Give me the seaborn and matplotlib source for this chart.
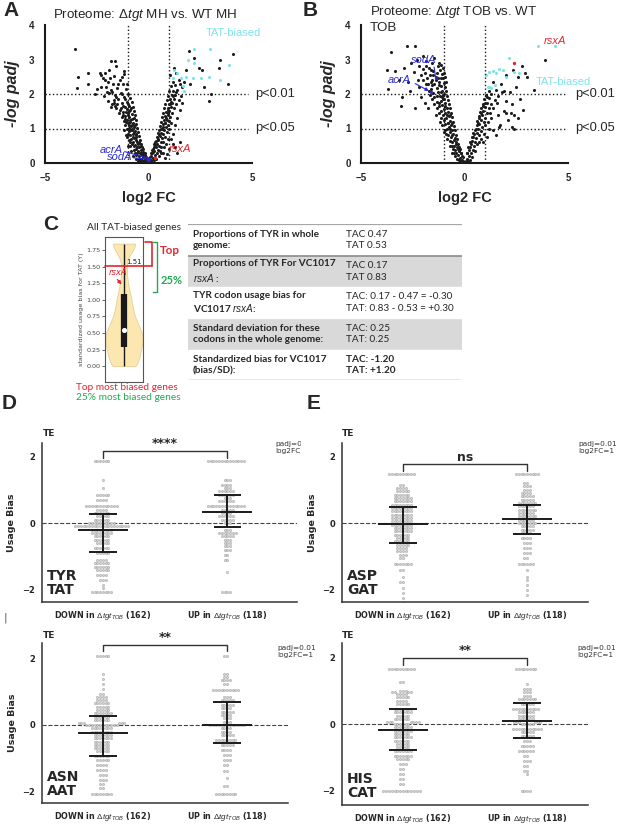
import matplotlib
matplotlib.use("Agg")
import matplotlib.pyplot as plt
from matplotlib.patches import Rectangle
import seaborn as sns
import numpy as np
import pandas as pd

W, H = 617, 824
VOL_FONT = "Liberation Sans"
TAB_FONT = "Lato"
CYAN = "#7de3ea"
RED = "#e3262d"
BLUE = "#2b2bd6"
GREEN = "#1faa50"

# ---------- A : volcano MH (log2 FC, -log padj) ----------
vol_a_black = [
    (-0.05, 0.04), (-0.1, 0.08), (-0.14, 0.03), (-0.18, 0.12), (-0.22, 0.07), (-0.27, 0.16), (-0.3, 0.05), (-0.33, 0.22),
    (-0.12, 0.18), (-0.2, 0.25), (-0.38, 0.12), (-0.42, 0.28), (-0.26, 0.33), (-0.35, 0.38), (-0.48, 0.2), (-0.5, 0.35),
    (-0.3, 0.45), (-0.44, 0.47), (-0.56, 0.3), (-0.6, 0.42), (-0.38, 0.55), (-0.52, 0.56), (-0.64, 0.52), (-0.7, 0.38),
    (-0.74, 0.6), (-0.42, 0.66), (-0.58, 0.68), (-0.68, 0.72), (-0.8, 0.55), (-0.84, 0.7), (-0.48, 0.78), (-0.62, 0.8),
    (-0.76, 0.84), (-0.88, 0.82), (-0.95, 0.66), (-0.52, 0.9), (-0.66, 0.93), (-0.8, 0.96), (-0.92, 0.92), (-1.0, 0.85),
    (-0.56, 1.02), (-0.7, 1.05), (-0.84, 1.08), (-0.96, 1.02), (-1.06, 0.98), (-0.6, 1.14), (-0.74, 1.17), (-0.88, 1.2),
    (-1.0, 1.15), (-1.12, 1.1), (-0.62, 1.25), (-0.78, 1.28), (-0.92, 1.32), (-1.05, 1.26), (-1.2, 1.22), (-0.66, 1.38),
    (-0.82, 1.41), (-0.98, 1.44), (-1.12, 1.36), (-1.3, 1.33), (-0.7, 1.5), (-0.88, 1.53), (-1.05, 1.56), (-1.22, 1.49),
    (-1.42, 1.46), (-0.76, 1.63), (-0.95, 1.66), (-1.15, 1.62), (-1.35, 1.6), (-1.55, 1.58), (-0.82, 1.76), (-1.05, 1.78),
    (-1.28, 1.74), (-1.5, 1.7), (-1.75, 1.72), (-0.9, 1.88), (-1.2, 1.9), (-1.45, 1.86), (-1.68, 1.84), (-1.95, 1.8),
    (-1.0, 2.0), (-1.35, 2.03), (-1.62, 1.98), (-1.9, 2.02), (-2.15, 1.95), (-1.1, 2.14), (-1.5, 2.16), (-1.8, 2.12),
    (-2.05, 2.2), (-1.25, 2.3), (-1.7, 2.28), (-1.95, 2.35), (-1.4, 2.42), (-2.2, 2.45), (-1.65, 2.52), (-1.2, 2.58),
    (-2.35, 2.62), (-1.9, 2.7), (-1.55, 2.8), (-1.8, 2.95), (-1.6, 2.95), (-0.08, 0.14), (-0.16, 0.22), (-0.24, 0.1),
    (-0.4, 0.05), (-0.46, 0.12), (-0.34, 0.28), (-0.58, 0.22), (-0.66, 0.3), (-0.72, 0.48), (-0.9, 0.5), (-0.9, 0.6),
    (-1.02, 0.75), (-0.78, 1.0), (-1.08, 1.2), (-0.7, 1.3), (-1.0, 1.38), (-0.45, 0.6), (-0.55, 0.45), (-0.6, 0.85),
    (-0.75, 0.75), (-0.85, 0.95), (-0.95, 1.1), (-0.65, 1.1), (-1.15, 1.28), (-0.85, 1.6), (-1.25, 1.65),
    (-0.15, 0.3), (-0.25, 0.42), (-0.35, 0.5), (-0.47, 0.58), (-0.55, 0.62), (-0.62, 0.75), (-0.7, 0.9), (-0.8, 1.1),
    (-0.9, 1.25), (-0.95, 1.5), (-1.1, 1.48), (-1.25, 1.4), (-1.4, 1.55), (-1.6, 1.65), (-1.0, 1.7), (-1.15, 1.85),
    (-1.3, 2.0), (-1.55, 1.92), (-1.75, 2.05), (-2.0, 2.05), (-1.45, 2.28), (-1.85, 2.45), (-2.1, 2.6), (-1.3, 2.5),
    (-1.05, 2.3), (-2.3, 2.2), (-1.8, 1.62), (-1.65, 1.75), (-0.5, 0.05), (-0.62, 0.12), (-0.75, 0.2), (-0.85, 0.35),
    (-1.0, 0.5), (-1.1, 0.8), (-1.2, 0.95),
    (-3.55, 3.3), (-3.4, 2.48), (-3.45, 2.18), (-2.9, 2.6), (-2.9, 2.28), (-2.3, 2.55), (-2.1, 2.4), (-1.2, 2.67),
    (-2.6, 2.0), (-2.5, 2.15),
    (0.05, 0.05), (0.1, 0.1), (0.15, 0.04), (0.2, 0.15), (0.12, 0.2), (0.25, 0.08), (0.3, 0.22), (0.18, 0.28),
    (0.35, 0.12), (0.28, 0.35), (0.4, 0.3), (0.22, 0.4), (0.36, 0.45), (0.45, 0.38), (0.3, 0.52), (0.42, 0.56),
    (0.52, 0.48), (0.35, 0.64), (0.48, 0.66), (0.58, 0.6), (0.4, 0.75), (0.54, 0.78), (0.64, 0.72), (0.46, 0.86),
    (0.6, 0.88), (0.7, 0.84), (0.5, 0.97), (0.64, 1.0), (0.76, 0.95), (0.86, 1.05), (0.55, 1.08), (0.7, 1.12),
    (0.82, 1.15), (0.95, 1.1), (0.6, 1.2), (0.75, 1.24), (0.88, 1.26), (1.0, 1.22), (0.65, 1.32), (0.8, 1.36),
    (0.94, 1.38), (1.06, 1.34), (0.7, 1.45), (0.86, 1.48), (1.0, 1.5), (1.15, 1.46), (0.76, 1.58), (0.92, 1.6),
    (1.08, 1.62), (1.25, 1.58), (0.82, 1.7), (0.98, 1.72), (1.15, 1.74), (1.35, 1.7), (0.88, 1.82), (1.05, 1.85),
    (1.22, 1.86), (1.45, 1.82), (0.95, 1.95), (1.12, 1.97), (1.3, 1.98), (1.55, 1.95), (1.0, 2.08), (1.2, 2.1),
    (1.4, 2.12), (1.1, 2.22), (1.3, 2.25), (1.6, 2.2), (1.2, 2.35), (1.45, 2.4), (1.05, 2.55), (1.35, 2.6),
    (1.25, 2.75), (0.08, 0.16), (0.2, 0.32), (0.25, 0.46), (0.5, 0.2), (0.55, 0.35), (0.62, 0.45), (0.7, 0.6),
    (0.8, 0.75), (0.9, 0.9), (1.0, 0.4), (1.2, 0.55), (1.4, 0.3), (0.9, 0.25), (1.1, 0.7), (0.8, 0.15), (0.7, 0.3),
    (1.0, 1.0), (1.1, 1.15),
    (0.1, 0.3), (0.15, 0.38), (0.25, 0.55), (0.32, 0.62), (0.45, 0.7), (0.52, 0.8), (0.6, 1.0), (0.68, 1.05),
    (0.78, 1.15), (0.85, 1.3), (0.92, 1.45), (0.95, 1.55), (1.05, 1.7), (1.1, 1.78), (1.2, 1.95), (1.35, 2.05),
    (1.5, 2.3), (1.7, 2.35), (0.6, 0.3), (0.75, 0.45), (0.85, 0.55), (0.95, 0.7), (1.3, 0.45), (1.5, 0.6),
    (1.2, 0.85), (1.3, 1.1), (1.4, 1.3), (1.5, 1.55), (1.6, 1.75),
    (4.1, 3.15), (3.85, 2.3), (3.4, 2.75), (3.0, 2.0), (2.9, 1.8), (2.6, 2.7), (2.45, 2.75), (1.95, 3.25),
    (2.2, 3.05), (1.8, 2.7), (3.45, 3.0), (2.0, 2.3), (2.7, 2.2),
]
vol_a_tat = [
    (1.25, 2.7), (1.57, 2.45), (1.17, 2.45), (1.8, 2.5), (1.65, 2.23), (1.73, 2.1), (1.9, 3.0), (2.2, 2.9),
    (2.2, 3.3), (2.55, 2.45), (2.95, 3.3), (2.9, 2.5), (3.45, 2.4), (3.9, 2.85), (2.13, 2.47), (1.4, 2.6),
]
vol_a_red = [(0.3, 0.15)]
vol_a_blue = [(0.04, 0.12), (-0.03, 0.1)]

# ---------- B : volcano TOB ----------
vol_b_black = [
    (-0.05, 0.05), (-0.1, 0.1), (-0.15, 0.04), (-0.2, 0.15), (-0.12, 0.2), (-0.25, 0.08), (-0.3, 0.22), (-0.18, 0.28),
    (-0.35, 0.12), (-0.28, 0.35), (-0.4, 0.3), (-0.22, 0.4), (-0.36, 0.46), (-0.45, 0.38), (-0.3, 0.55), (-0.42, 0.6),
    (-0.52, 0.5), (-0.35, 0.7), (-0.48, 0.72), (-0.58, 0.62), (-0.4, 0.82), (-0.54, 0.85), (-0.64, 0.76), (-0.45, 0.95),
    (-0.6, 0.97), (-0.7, 0.9), (-0.5, 1.07), (-0.64, 1.1), (-0.76, 1.04), (-0.86, 1.0), (-0.55, 1.2), (-0.7, 1.22),
    (-0.82, 1.17), (-0.95, 1.12), (-0.6, 1.33), (-0.75, 1.35), (-0.88, 1.3), (-1.0, 1.26), (-0.65, 1.45), (-0.8, 1.48),
    (-0.94, 1.44), (-1.06, 1.4), (-0.7, 1.58), (-0.86, 1.6), (-1.0, 1.56), (-1.15, 1.52), (-0.75, 1.7), (-0.92, 1.73),
    (-1.08, 1.68), (-1.25, 1.65), (-0.8, 1.83), (-0.98, 1.86), (-1.15, 1.8), (-1.35, 1.78), (-0.85, 1.95), (-1.02, 1.98),
    (-1.2, 1.93), (-1.45, 1.9), (-0.9, 2.08), (-1.08, 2.1), (-1.28, 2.06), (-1.5, 2.02), (-0.95, 2.2), (-1.15, 2.22),
    (-1.35, 2.18), (-1.6, 2.15), (-1.0, 2.32), (-1.22, 2.35), (-1.45, 2.3), (-1.75, 2.28), (-1.05, 2.45), (-1.3, 2.47),
    (-1.55, 2.42), (-1.1, 2.58), (-1.35, 2.6), (-1.65, 2.55), (-1.2, 2.7), (-1.5, 2.68), (-1.9, 2.62), (-1.3, 2.8),
    (-1.7, 2.75), (-2.0, 2.72), (-1.55, 2.9), (-1.85, 2.95), (-2.2, 2.8), (-1.45, 3.05), (-2.0, 3.1),
    (-0.08, 0.16), (-0.22, 0.05), (-0.32, 0.4), (-0.5, 0.3), (-0.56, 0.42), (-0.62, 0.5), (-0.7, 0.65), (-0.78, 0.8),
    (-0.9, 0.85), (-0.95, 0.95), (-1.1, 1.1), (-1.15, 1.3), (-1.25, 1.45), (-1.35, 1.6), (-1.45, 1.72), (-1.55, 1.85),
    (-1.65, 1.98), (-1.1, 1.9), (-1.0, 2.0), (-0.98, 2.6), (-1.05, 2.75), (-1.4, 2.5), (-1.6, 2.35), (-1.8, 2.45),
    (-1.25, 2.9),
    (-0.15, 0.3), (-0.25, 0.45), (-0.4, 0.55), (-0.5, 0.68), (-0.58, 0.8), (-0.68, 1.0), (-0.78, 1.15), (-0.85, 1.4),
    (-0.95, 1.65), (-1.05, 1.85), (-1.15, 2.05), (-1.25, 2.25), (-1.4, 2.4), (-1.5, 2.55), (-1.62, 2.7), (-1.15, 2.45),
    (-0.9, 2.35), (-0.95, 2.5), (-1.15, 2.85), (-1.7, 2.1), (-1.85, 2.3), (-2.1, 2.55), (-2.25, 2.4), (-1.35, 1.95),
    (-1.25, 1.75), (-1.55, 2.25), (-0.7, 1.4), (-0.6, 1.15), (-0.45, 0.2), (-0.6, 0.3), (-0.7, 0.5), (-0.85, 0.7),
    (-1.0, 0.9), (-1.2, 1.2), (-1.4, 1.4),
    (-3.55, 3.23), (-2.8, 3.38), (-2.4, 3.4), (-3.73, 2.7), (-3.35, 2.68), (-2.45, 2.65), (-3.7, 2.15), (-3.05, 1.65),
    (-2.1, 1.92), (-3.15, 2.4), (-2.75, 2.35), (-3.0, 1.9), (-2.65, 2.1), (-2.2, 2.2), (-1.85, 2.8), (-2.0, 2.4),
    (-2.6, 2.9), (-2.3, 3.0), (-2.9, 2.75), (-1.9, 1.75), (-2.4, 1.6), (-1.75, 1.6),
    (0.05, 0.05), (0.1, 0.12), (0.15, 0.05), (0.2, 0.2), (0.12, 0.28), (0.25, 0.1), (0.3, 0.3), (0.2, 0.38),
    (0.35, 0.18), (0.28, 0.45), (0.4, 0.38), (0.32, 0.55), (0.45, 0.5), (0.38, 0.65), (0.5, 0.62), (0.42, 0.75),
    (0.55, 0.72), (0.6, 0.55), (0.48, 0.85), (0.6, 0.88), (0.7, 0.8), (0.52, 0.97), (0.66, 1.0), (0.78, 0.92),
    (0.58, 1.1), (0.72, 1.12), (0.86, 1.05), (0.62, 1.22), (0.78, 1.25), (0.92, 1.18), (0.68, 1.35), (0.84, 1.38),
    (1.0, 1.3), (0.74, 1.48), (0.9, 1.5), (1.08, 1.45), (0.8, 1.6), (0.98, 1.62), (1.2, 1.58), (0.88, 1.72),
    (1.08, 1.75), (1.3, 1.7), (0.95, 1.85), (1.2, 1.88), (1.45, 1.82), (1.05, 1.98), (1.3, 2.0), (1.6, 1.95),
    (1.2, 2.1), (1.5, 2.12), (1.8, 2.05), (1.0, 1.1), (1.2, 1.0), (1.4, 0.95), (1.3, 1.3), (1.6, 1.4), (1.7, 1.1),
    (1.9, 1.5), (2.1, 1.25), (2.3, 1.05), (1.5, 0.8), (1.1, 0.75), (0.9, 0.6), (2.4, 1.4), (2.0, 1.8), (2.2, 2.05),
    (2.5, 2.2), (2.7, 1.85), (2.85, 1.55), (2.3, 1.7), (1.75, 2.3), (1.4, 2.35), (2.0, 2.55), (2.6, 2.5), (2.9, 2.6),
    (3.0, 2.5), (3.9, 3.0), (2.35, 2.7), (2.8, 2.8), (1.9, 2.1), (3.38, 2.12), (2.0, 1.44), (2.25, 1.44),
    (1.69, 1.05), (2.4, 1.0), (2.6, 1.3),
    (0.1, 0.3), (0.18, 0.45), (0.25, 0.6), (0.35, 0.75), (0.42, 0.88), (0.55, 1.0), (0.65, 1.15), (0.72, 1.3),
    (0.8, 1.45), (0.9, 1.65), (1.0, 1.75), (1.1, 1.9), (0.5, 0.35), (0.7, 0.6), (0.8, 0.7), (0.95, 0.85),
    (1.15, 1.2), (1.25, 1.45), (1.4, 1.6), (1.55, 1.75),
]
vol_b_tat = [
    (1.05, 2.55), (1.2, 2.65), (1.37, 2.68), (1.53, 2.62), (1.85, 2.7), (2.0, 2.5), (2.17, 3.03), (2.4, 2.65),
    (2.65, 2.6), (1.3, 2.17), (1.13, 2.21), (1.45, 2.26), (3.55, 3.38), (4.35, 3.4), (1.65, 2.72), (1.2, 2.2),
]
vol_b_red = [(2.41, 2.89)]
vol_b_blue = [(-1.4, 2.45), (-1.6, 2.05)]

# ---------- C : biais d'usage des gènes TAT ----------
tat_bias_genes = [0.0, 0.0, 0.01, 0.02, 0.04, 0.06, 0.09, 0.12, 0.15, 0.18, 0.21, 0.24, 0.28,
                  0.3, 0.32, 0.34, 0.36, 0.38, 0.4, 0.42, 0.44, 0.46, 0.48, 0.5, 0.52, 0.54,
                  0.56, 0.59, 0.62, 0.65, 0.69, 0.73, 0.77, 0.82, 0.87, 0.92, 0.97, 1.02, 1.07,
                  1.15, 1.25, 1.4, 1.55, 1.85, 1.85, 1.85, 1.85, 1.85, 1.85, 1.85, 1.85, 1.85]
top_cut = 1.51
table_left = ["Proportions of TYR in whole\ngenome:",
              "Proportions of TYR For VC1017\n$\\mathit{rsxA}$ :",
              "TYR codon usage bias for\nVC1017 $\\mathit{rsxA}$:",
              "Standard deviation for these\ncodons in the whole genome:",
              "Standardized bias for VC1017\n(bias/SD):"]
table_right = ["TAC 0.47\nTAT 0.53",
               "TAC 0.17\nTAT 0.83",
               "TAC: 0.17 - 0.47 = -0.30\nTAT: 0.83 - 0.53 = +0.30",
               "TAC: 0.25\nTAT: 0.25",
               "TAC: -1.20\nTAT: +1.20"]
table_shade = [False, True, False, True, False]

# ---------- D / E : usage bias (niveau, nombre de gènes) ----------
tyr_down_lv = [1.85, 1.27, 1.05, 0.85, 0.7, 0.5, 0.4, 0.3, 0.2, 0.1, 0.0, -0.1, -0.2, -0.3, -0.4, -0.5, -0.6,
               -0.75, -0.9, -1.1, -1.2, -1.3, -1.4, -1.55, -1.7, -1.85, -1.95, -2.07]
tyr_down_n = [6, 1, 1, 5, 4, 12, 4, 6, 5, 6, 10, 20, 8, 8, 6, 6, 5, 6, 5, 4, 6, 6, 5, 4, 3, 1, 1, 8]
tyr_up_lv = [1.85, 1.27, 1.15, 1.05, 0.95, 0.85, 0.75, 0.65, 0.5, 0.4, 0.3, 0.2, 0.1, 0.0, -0.2, -0.3, -0.4,
             -0.5, -0.6, -0.7, -0.8, -0.95, -1.1, -1.45, -2.07]
tyr_up_n = [14, 3, 4, 3, 6, 6, 3, 6, 14, 5, 4, 6, 5, 3, 3, 7, 5, 3, 3, 3, 3, 2, 2, 1, 4]

asp_down_lv = [1.45, 1.15, 1.05, 0.95, 0.85, 0.75, 0.65, 0.55, 0.45, 0.35, 0.25, 0.15, 0.05, -0.05, -0.15,
               -0.25, -0.35, -0.45, -0.55, -0.65, -0.75, -0.85, -0.95, -1.05, -1.22, -1.4, -1.6, -1.75,
               -1.95, -2.1, -2.25, -2.4]
asp_down_n = [10, 2, 4, 5, 6, 7, 7, 8, 8, 8, 8, 8, 8, 8, 7, 7, 6, 5, 6, 5, 4, 4, 3, 2, 7, 2, 1, 2, 1, 1, 1, 1]
asp_up_lv = [1.45, 1.2, 1.1, 1.0, 0.9, 0.8, 0.7, 0.6, 0.5, 0.4, 0.3, 0.2, 0.1, 0.0, -0.1, -0.2, -0.3, -0.45,
             -0.6, -0.75, -0.9, -1.05, -1.22, -1.4, -1.6, -1.7, -1.85, -2.0, -2.15]
asp_up_n = [9, 2, 3, 3, 4, 5, 5, 7, 6, 7, 6, 7, 6, 7, 5, 5, 4, 4, 3, 3, 3, 2, 6, 1, 1, 1, 1, 1, 1]

asn_down_lv = [2.1, 1.55, 1.4, 1.25, 1.1, 0.95, 0.85, 0.75, 0.65, 0.55, 0.45, 0.35, 0.25, 0.15, 0.05, 0.0,
               -0.1, -0.2, -0.3, -0.4, -0.5, -0.6, -0.7, -0.8, -0.95, -1.05, -1.2, -1.35, -1.5, -1.65,
               -1.8, -1.9, -2.1]
asn_down_n = [5, 1, 1, 1, 1, 2, 4, 4, 6, 5, 5, 7, 6, 6, 6, 12, 8, 8, 7, 7, 6, 6, 6, 5, 6, 5, 4, 4, 3, 3, 2, 2, 8]
asn_up_lv = [2.1, 1.55, 1.45, 1.35, 1.25, 1.05, 0.85, 0.75, 0.6, 0.5, 0.4, 0.3, 0.2, 0.1, 0.0, -0.1, -0.2,
             -0.3, -0.45, -0.6, -0.75, -0.9, -1.05, -1.2, -1.4, -1.6, -1.85, -2.1]
asn_up_n = [2, 2, 2, 4, 2, 10, 3, 5, 5, 4, 5, 4, 3, 3, 13, 4, 4, 5, 8, 5, 4, 3, 3, 2, 2, 1, 2, 8]

his_down_lv = [1.65, 1.25, 1.0, 0.95, 0.9, 0.8, 0.7, 0.6, 0.45, 0.35, 0.25, 0.15, 0.05, 0.0, -0.1, -0.2,
               -0.3, -0.4, -0.5, -0.6, -0.7, -0.8, -0.95, -1.05, -1.2, -1.35, -1.5, -1.65, -1.8, -2.0]
his_down_n = [10, 2, 3, 4, 4, 5, 4, 5, 7, 7, 5, 6, 7, 6, 7, 7, 6, 7, 6, 5, 5, 7, 7, 5, 3, 2, 2, 2, 2, 14]
his_up_lv = [1.65, 1.2, 1.05, 0.95, 0.85, 0.75, 0.6, 0.45, 0.35, 0.25, 0.15, 0.05, 0.0, -0.15, -0.25, -0.35,
             -0.5, -0.65, -0.8, -0.95, -1.1, -1.25, -1.4, -1.5, -2.0]
his_up_n = [8, 1, 3, 3, 3, 7, 5, 10, 6, 6, 6, 6, 5, 11, 5, 5, 3, 5, 6, 2, 3, 2, 2, 1, 4]

tyr_summary = [(-0.2, -0.88, 0.27), (0.33, -0.12, 0.85)]
asp_summary = [(-0.03, -0.59, 0.48), (0.13, -0.32, 0.55)]
asn_summary = [(-0.25, -0.95, 0.27), (0.0, -0.55, 0.7)]
his_summary = [(-0.17, -0.77, 0.45), (0.1, -0.42, 0.63)]
group_labels = [r"DOWN in $\Delta tgt_{TOB}$ (162)", r"UP in $\Delta tgt_{TOB}$ (118)"]


def px_ax(fig, left, top, right, bottom):
    return fig.add_axes([left / W, 1 - bottom / H, (right - left) / W, (bottom - top) / H])


def fig_text(fig, x, y, s, **kw):
    return fig.text(x / W, 1 - y / H, s, **kw)


def plot_volcano(ax, black, tat, red, blue, line_end, ptxt_x):
    """Volcano plot log2 FC vs -log padj"""
    cols = ["log2FC", "mlogp"]
    sns.scatterplot(data=pd.DataFrame(black, columns=cols), x="log2FC", y="mlogp", ax=ax,
                    s=5, color="#1e1e1e", linewidth=0, legend=False)
    sns.scatterplot(data=pd.DataFrame(tat, columns=cols), x="log2FC", y="mlogp", ax=ax,
                    s=5, color=CYAN, linewidth=0, legend=False)
    sns.scatterplot(data=pd.DataFrame(red, columns=cols), x="log2FC", y="mlogp", ax=ax,
                    s=6, color=RED, linewidth=0, legend=False)
    sns.scatterplot(data=pd.DataFrame(blue, columns=cols), x="log2FC", y="mlogp", ax=ax,
                    s=6, color=BLUE, linewidth=0, legend=False)
    ax.vlines([-1, 1], 0, 4, colors="k", linestyles=":", lw=1)
    ax.hlines([1, 2], -5, line_end, colors="k", linestyles=":", lw=1, clip_on=False)
    ax.set_xlim(-5, 5)
    ax.set_ylim(0, 4)
    ax.set_xticks([-5, 0, 5])
    ax.set_xticks(range(-4, 5), minor=True)
    ax.set_yticks(range(5))
    for side in ["top", "right"]:
        ax.spines[side].set_visible(False)
    for side in ["left", "bottom"]:
        ax.spines[side].set_linewidth(1.5)
        ax.spines[side].set_color("k")
    ax.tick_params(which="major", length=4, width=1.2, labelsize=7, direction="out")
    ax.tick_params(which="minor", length=2.5, width=1, direction="out")
    for lab in ax.get_xticklabels() + ax.get_yticklabels():
        lab.set_fontweight("bold")
        lab.set_fontfamily(VOL_FONT)
    ax.set_xlabel("log2 FC", fontsize=10.5, fontweight="bold", family=VOL_FONT)
    ax.set_ylabel("-log padj", fontsize=11.5, fontweight="bold", style="italic", family=VOL_FONT)
    ax.xaxis.set_label_coords(0.5, -0.2)
    ax.yaxis.set_label_coords(-0.12, 0.5)
    ax.text(ptxt_x, 2, "p<0.01", va="center", fontsize=9.3, family=VOL_FONT, clip_on=False)
    ax.text(ptxt_x, 1, "p<0.05", va="center", fontsize=9.3, family=VOL_FONT, clip_on=False)


def plot_swarm(ax, down_lv, down_n, up_lv, up_n, summary, sig, sig_y, ylim, xlim, aa_label, ylabel=True):
    """Swarm des biais d'usage DOWN / UP avec médiane et intervalle"""
    vals = np.concatenate([np.repeat(down_lv, down_n), np.repeat(up_lv, up_n)])
    grp = ["DOWN"] * int(np.sum(down_n)) + ["UP"] * int(np.sum(up_n))
    df = pd.DataFrame({"groupe": grp, "bias": vals})
    sns.swarmplot(data=df, x="groupe", y="bias", ax=ax, size=1.6, color="#d4d4d4",
                  edgecolor="#8e8e8e", linewidth=0.3, zorder=2)
    ax.axhline(0, color="#444444", ls="--", lw=0.8, zorder=1)
    for i, (c, lo, hi) in enumerate(summary):
        ax.hlines(c, i - 0.2, i + 0.2, color="k", lw=1.4, zorder=3)
        ax.hlines([lo, hi], i - 0.11, i + 0.11, color="k", lw=1.4, zorder=3)
        ax.vlines(i, lo, hi, color="k", lw=1.4, zorder=3)
    # crochet de significativité
    ax.plot([0, 0, 1, 1], [sig_y - 0.2, sig_y, sig_y, sig_y - 0.2], color="#333333", lw=1)
    ax.text(0.5, sig_y + 0.02, sig, ha="center", va="bottom", fontsize=9, fontweight="bold")
    ax.set_ylim(*ylim)
    ax.set_xlim(*xlim)
    ax.set_yticks([-2, 0, 2])
    ax.set_yticklabels(["\u22122", "0", "2"], fontsize=6, fontweight="bold")
    ax.set_xticks([0, 1])
    ax.set_xticklabels(group_labels, fontsize=5.8, fontweight="bold")
    ax.set_xlabel("")
    ax.set_ylabel("Usage Bias" if ylabel else "", fontsize=6.8, fontweight="bold")
    ax.yaxis.set_label_coords(-0.1, 0.5)
    for side in ["top", "right"]:
        ax.spines[side].set_visible(False)
    for side in ["left", "bottom"]:
        ax.spines[side].set_linewidth(1.1)
        ax.spines[side].set_color("#333333")
    ax.tick_params(length=3, width=0.8, pad=2)
    ax.text(0.02, 0.03, aa_label, transform=ax.transAxes, fontsize=10, fontweight="bold",
            va="bottom", ha="left", linespacing=1.0)


sns.set_theme(style="white")
plt.rcParams["font.family"] = ["DejaVu Sans"]
plt.rcParams["mathtext.fontset"] = "custom"
plt.rcParams["mathtext.rm"] = VOL_FONT
plt.rcParams["mathtext.it"] = VOL_FONT + ":italic"
plt.rcParams["mathtext.bf"] = VOL_FONT + ":bold"

fig = plt.figure(figsize=(W / 100, H / 100), dpi=100)
fig.patch.set_facecolor("white")

# ---------------- A ----------------
ax_a = px_ax(fig, 45, 25, 252, 163)
plot_volcano(ax_a, vol_a_black, vol_a_tat, vol_a_red, vol_a_blue, 4.8, 5.15)
ax_a.text(2.75, 3.77, "TAT-biased", color=CYAN, fontsize=8, va="center", family=VOL_FONT)
ax_a.text(-2.35, 0.38, "acrA", color=BLUE, fontsize=8, style="italic", va="center", family=VOL_FONT)
ax_a.text(-2.0, 0.17, "sodA", color=BLUE, fontsize=8, style="italic", va="center", family=VOL_FONT)
ax_a.plot([-1.15, -0.05], [0.33, 0.15], color=BLUE, lw=0.8)
ax_a.plot([-0.72, 0.0], [0.15, 0.11], color=BLUE, lw=0.8)
ax_a.text(1.0, 0.42, "rsxA", color=RED, fontsize=8, style="italic", va="center", family=VOL_FONT)
fig_text(fig, 53, 15, "Proteome: $\\mathit{\\Delta tgt}$ MH vs. WT MH", fontsize=9.6, va="center",
         family=VOL_FONT)

# ---------------- B ----------------
ax_b = px_ax(fig, 361, 25, 568, 163)
plot_volcano(ax_b, vol_b_black, vol_b_tat, vol_b_red, vol_b_blue, 4.85, 5.34)
ax_b.text(3.45, 2.36, "TAT-biased", color=CYAN, fontsize=8, va="center", family=VOL_FONT)
ax_b.text(3.85, 3.55, "rsxA", color=RED, fontsize=8, style="italic", va="center", family=VOL_FONT)
ax_b.text(-2.57, 2.99, "sodA", color=BLUE, fontsize=8, style="italic", va="center", family=VOL_FONT)
ax_b.text(-3.7, 2.4, "acrA", color=BLUE, fontsize=8, style="italic", va="center", family=VOL_FONT)
ax_b.plot([-1.47, -1.4], [2.78, 2.5], color=BLUE, lw=0.8)
ax_b.annotate("", xy=(-1.6, 2.05), xytext=(-2.5, 2.34),
              arrowprops=dict(arrowstyle="-|>", color=BLUE, lw=0.8, mutation_scale=5))
fig_text(fig, 370, 4, "Proteome: $\\mathit{\\Delta tgt}$ TOB vs. WT\nTOB", fontsize=9.6, va="top",
         family=VOL_FONT, linespacing=1.25)

# lettres des panneaux
for letter, x, y in [("A", 3, 11), ("B", 303, 11), ("C", 43, 225), ("D", 2, 403), ("E", 307, 403)]:
    fig_text(fig, x, y, letter, fontsize=15, fontweight="bold", va="center", family=VOL_FONT)

# ---------------- C : violon ----------------
ax_v = px_ax(fig, 105, 237, 143, 382)
sns.violinplot(y=tat_bias_genes, ax=ax_v, color="#fce7b0", saturation=1, cut=0, inner=None,
               width=0.96, linewidth=0.6, linecolor="#e6cf98", bw_adjust=0.5)
# largeur max du violon = largeur du cadre
body = ax_v.collections[0].get_paths()[0].vertices
body[:, 0] *= 0.49 / np.abs(body[:, 0]).max()
q1, med, q3 = np.percentile(tat_bias_genes, [25, 50, 75])
ax_v.vlines(0, min(tat_bias_genes), max(tat_bias_genes), color="k", lw=1)
ax_v.vlines(0, q1, q3, color="k", lw=4.5)
ax_v.scatter([0], [med], s=7, color="white", zorder=4)
ax_v.set_xlim(-0.5, 0.5)
ax_v.set_ylim(-0.24, 1.95)
ax_v.set_yticks(np.arange(0, 2.0, 0.25))
ax_v.set_yticklabels([f"{v:.2f}" for v in np.arange(0, 2.0, 0.25)], fontsize=4.6, color="#444444")
ax_v.set_xticks([])
ax_v.tick_params(axis="y", length=2, width=0.5, pad=1, left=True)
ax_v.set_ylabel("standardized usage bias for TAT (Y)", fontsize=4.6, color="#444444", labelpad=2)
for side in ax_v.spines.values():
    side.set_linewidth(0.8)
    side.set_color("#555555")
ytr = ax_v.get_yaxis_transform()
ax_v.plot([0, 1.24], [top_cut, top_cut], color=RED, lw=1.2, transform=ytr, clip_on=False)
ax_v.plot([1.05, 1.24, 1.24], [1.88, 1.88, top_cut], color=RED, lw=1.2, transform=ytr, clip_on=False)
ax_v.plot([1.27, 1.37, 1.37, 1.27], [1.88, 1.88, 1.12, 1.12], color=GREEN, lw=1.0, transform=ytr,
          clip_on=False)
ax_v.text(0.05, top_cut + 0.02, "1.51", fontsize=5, va="bottom", color="#222222")
ax_v.text(-0.17, 1.41, "rsxA", fontsize=6, style="italic", color=RED, ha="center", va="center")
ax_v.annotate("", xy=(-0.02, 1.2), xytext=(-0.22, 1.34),
              arrowprops=dict(arrowstyle="-|>", color=RED, lw=0.9, mutation_scale=5))
fig_text(fig, 134, 227, "All TAT-biased genes", fontsize=7.3, ha="center", va="center", family=TAB_FONT)
fig_text(fig, 160, 251, "Top", fontsize=8.3, fontweight="bold", color=RED, va="center", family=TAB_FONT)
fig_text(fig, 161, 280, "25%", fontsize=8, fontweight="bold", color=GREEN, va="center", family=TAB_FONT)
fig_text(fig, 127, 387, "Top most biased genes", fontsize=7.3, color=RED, ha="center", va="center",
         family=TAB_FONT)
fig_text(fig, 128, 398, "25% most biased genes", fontsize=7.3, color=GREEN, ha="center", va="center",
         family=TAB_FONT)

# ---------------- C : tableau ----------------
ax_t = px_ax(fig, 188, 224, 462, 380)
ax_t.set_xlim(0, 274)
ax_t.set_ylim(156, 0)
ax_t.axis("off")
row_edges = [0, 32, 63, 94, 126, 156]
for i in range(len(table_left)):
    top, bot = row_edges[i], row_edges[i + 1]
    if table_shade[i]:
        ax_t.add_patch(Rectangle((0, top), 274, bot - top, color="#d9d9d9", lw=0))
    ax_t.text(5, (top + bot) / 2, table_left[i], fontsize=7.2, fontweight="bold", family=TAB_FONT,
              va="center", ha="left", linespacing=1.3)
    ax_t.text(158, (top + bot) / 2, table_right[i], fontsize=7.2, family=TAB_FONT, va="center",
              ha="left", linespacing=1.3, fontweight="bold" if i == len(table_left) - 1 else "normal")
ax_t.hlines(0, 0, 274, color="#a6a6a6", lw=1.6)
ax_t.hlines(32, 0, 274, color="#8c8c8c", lw=1.2)
ax_t.hlines([63, 94, 126], 0, 274, color="white", lw=1.0)
ax_t.hlines(156, 0, 274, color="#8c8c8c", lw=1.0)

# ---------------- D / E : swarms ----------------
ax_d1 = px_ax(fig, 42, 443, 297, 602)
plot_swarm(ax_d1, tyr_down_lv, tyr_down_n, tyr_up_lv, tyr_up_n, tyr_summary, "****", 2.15,
           (-2.36, 2.39), (-0.49, 1.56), "TYR\nTAT")
ax_e1 = px_ax(fig, 342, 443, 588, 602)
plot_swarm(ax_e1, asp_down_lv, asp_down_n, asp_up_lv, asp_up_n, asp_summary, "ns", 1.75,
           (-2.36, 2.39), (-0.49, 1.49), "ASP\nGAT")
ax_d2 = px_ax(fig, 42, 643, 288, 803)
plot_swarm(ax_d2, asn_down_lv, asn_down_n, asn_up_lv, asn_up_n, asn_summary, "**", 2.43,
           (-2.36, 2.48), (-0.49, 1.49), "ASN\nAAT")
ax_e2 = px_ax(fig, 342, 643, 588, 805)
plot_swarm(ax_e2, his_down_lv, his_down_n, his_up_lv, his_up_n, his_summary, "**", 1.97,
           (-2.42, 2.42), (-0.49, 1.49), "HIS\nCAT", ylabel=False)

for x, y in [(43, 433), (342, 433), (43, 636), (342, 636)]:
    fig_text(fig, x, y, "TE", fontsize=6.5, fontweight="bold", va="center")
for x, y in [(275, 441), (578, 441), (277, 645), (577, 645)]:
    fig_text(fig, x, y, "padj=0.01\nlog2FC=1", fontsize=5.3, va="top", color="#333333", linespacing=1.1)
# le texte du panneau D haut est coupé par le panneau E
fig.add_artist(Rectangle((301 / W, 1 - 462 / H), 14 / W, 26 / H, transform=fig.transFigure,
                         color="white", zorder=10))
fig_text(fig, 4, 618, "|", fontsize=8, color="#555555", va="center")

fig.savefig("out.png", dpi=100, facecolor="white")
plt.close(fig)
